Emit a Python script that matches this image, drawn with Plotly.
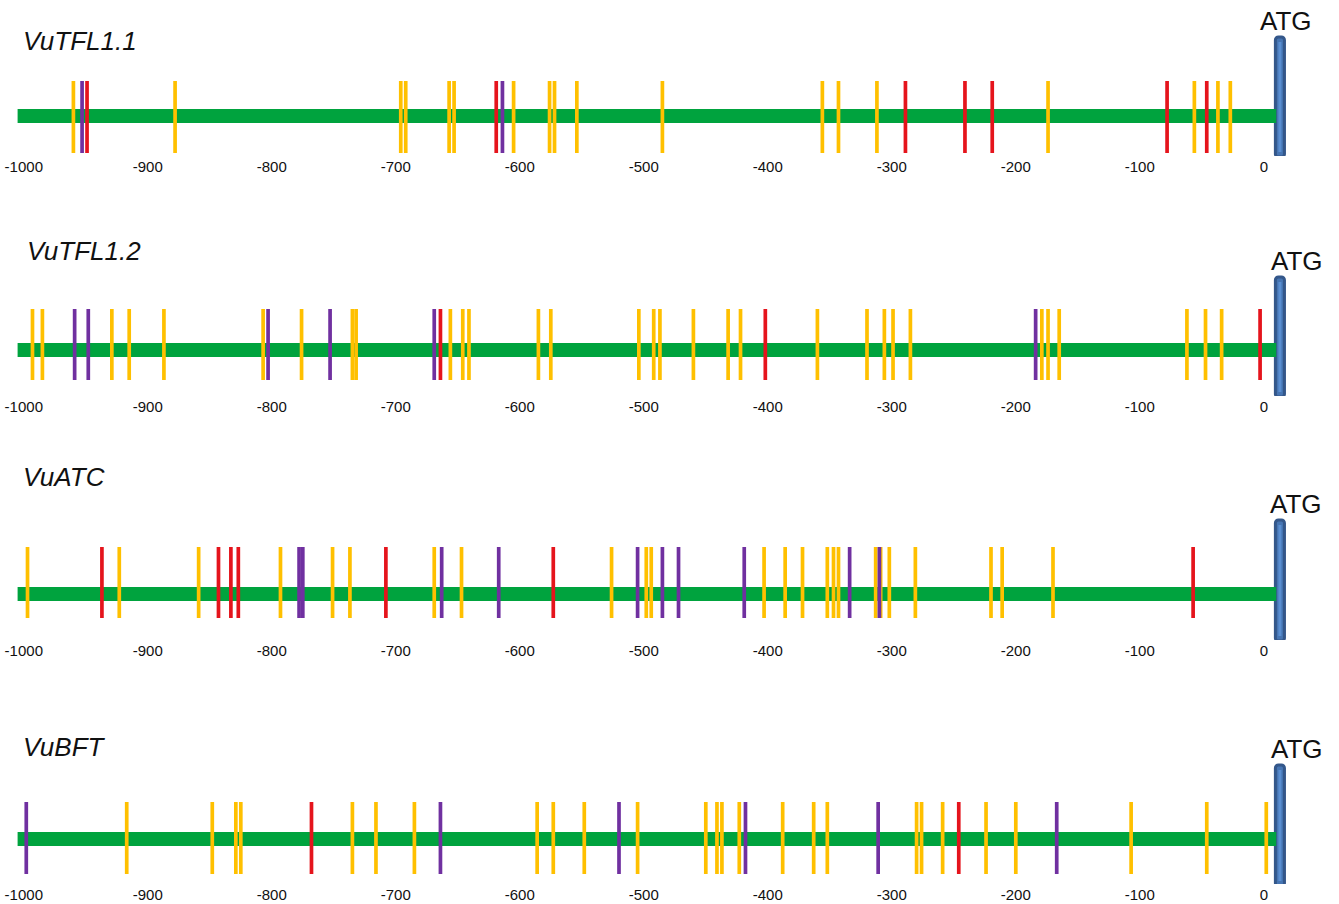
import plotly.graph_objects as go

# ---------------- data (positions relative to ATG, bp) ----------------
genes = ["VuTFL1.1", "VuTFL1.2", "VuATC", "VuBFT"]

tfl11_yellow = [-960, -878, -696, -692, -657, -653, -605, -576, -572, -554, -485,
                -356, -343, -312, -174, -56, -37, -27]
tfl11_red = [-949, -619, -289, -241, -219, -78, -46]
tfl11_purple = [-953, -614]

tfl12_yellow = [-993, -985, -929, -915, -887, -807, -776, -735, -732, -656, -646, -641,
                -585, -575, -504, -492, -487, -460, -432, -422, -360, -320, -306, -299,
                -285, -179, -174, -165, -62, -47, -34]
tfl12_red = [-664, -402, -3]
tfl12_purple = [-959, -948, -803, -753, -669, -184]

atc_yellow = [-997, -923, -859, -793, -751, -737, -669, -647, -526, -498, -494,
              -403, -386, -372, -352, -347, -343, -313, -309, -302, -281, -220, -211, -170]
atc_red = [-937, -843, -833, -827, -708, -573, -57]
atc_purple = [-778, -775, -663, -617, -505, -485, -472, -419, -334, -310]

bft_yellow = [-917, -848, -829, -825, -735, -716, -685, -586, -573, -548, -505,
              -450, -441, -437, -423, -388, -363, -352, -280, -276, -259, -224, -200,
              -107, -46, 2]
bft_red = [-768, -246]
bft_purple = [-998, -664, -520, -418, -311, -167]

tick_vals = [-1000, -900, -800, -700, -600, -500, -400, -300, -200, -100, 0]
tick_text = ["-1000", "-900", "-800", "-700", "-600", "-500", "-400", "-300", "-200", "-100", "0"]

promoter_start = -1005
promoter_end = 10
atg_label = "ATG"
atg_pos = 13

yellow_sets = [tfl11_yellow, tfl12_yellow, atc_yellow, bft_yellow]
red_sets = [tfl11_red, tfl12_red, atc_red, bft_red]
purple_sets = [tfl11_purple, tfl12_purple, atc_purple, bft_purple]

# ---------------- styling / layout ----------------
W, H = 1339, 904
YELLOW = "#FFC000"
RED = "#E5141C"
PURPLE = "#7030A0"
GREEN = "#00A33E"
ATG_FILL = "#4675B3"
ATG_LINE = "#34578A"
ATG_HI = "#5A8FD2"
FONT = "Liberation Sans, Arial, sans-serif"

centers_px = [116, 350, 594, 839]          # bar centre of each panel (px from top)
mark_ext = [(-37, 35), (-30, 41), (-24, 47), (-35, 37)]   # mark bottom/top (px, up +)
box_ext = [(-41, 79), (-47, 73), (-47, 74), (-47, 74)]
dom_bot = [40, 46, 46, 45]
title_px = [41, 251, 477, 747]
title_x_px = [21, 25, 21, 21]
atg_px = [21, 261, 504, 749]
atg_x_px = [1286, 1297, 1296, 1297]

# x mapping (best fit to tick labels): -1000 -> 23.8 px, 0 -> 1263.8 px
X0_PX, X1_PX = 23.8, 1263.8
px_per_bp = (X1_PX - X0_PX) / 1000.0
x_range = [-1000 - X0_PX / px_per_bp, (W - X1_PX) / px_per_bp]

DOM_TOP = 100   # px above bar centre covered by each y axis

fig = go.Figure()
annotations = []

for i in range(4):
    xa = "x" if i == 0 else f"x{i+1}"
    ya = "y" if i == 0 else f"y{i+1}"
    lo, hi = mark_ext[i]

    # promoter bar
    fig.add_trace(go.Scatter(
        x=[promoter_start, promoter_end], y=[0, 0], mode="lines",
        line=dict(color=GREEN, width=14), xaxis=xa, yaxis=ya,
        hoverinfo="skip", showlegend=False))

    # cis-elements
    for vals, col in [(yellow_sets[i], YELLOW), (purple_sets[i], PURPLE), (red_sets[i], RED)]:
        xs, ys = [], []
        for v in vals:
            xs += [v, v, None]
            ys += [lo, hi, None]
        fig.add_trace(go.Scatter(
            x=xs, y=ys, mode="lines", line=dict(color=col, width=3.7),
            xaxis=xa, yaxis=ya, hoverinfo="skip", showlegend=False))

    # ATG box
    b0, b1 = box_ext[i]
    fig.add_trace(go.Bar(
        x=[atg_pos], y=[b1 - b0], base=[b0], width=[7.3],
        marker=dict(color=ATG_FILL, line=dict(color=ATG_LINE, width=3), cornerradius=3),
        xaxis=xa, yaxis=ya, hoverinfo="skip", showlegend=False))
    fig.add_trace(go.Scatter(
        x=[atg_pos, atg_pos], y=[b0 + 5, b1 - 5], mode="lines",
        line=dict(color=ATG_HI, width=3), xaxis=xa, yaxis=ya,
        hoverinfo="skip", showlegend=False))

    c = centers_px[i]
    top_frac = (H - (c - DOM_TOP)) / H
    bot_frac = (H - (c + dom_bot[i])) / H
    fig.update_layout(**{
        ("xaxis" if i == 0 else f"xaxis{i+1}"): dict(
            domain=[0, 1], range=x_range, anchor=ya, showgrid=False, zeroline=False,
            showline=False, ticks="", tickmode="array", tickvals=tick_vals,
            ticktext=tick_text, tickfont=dict(family=FONT, size=15, color="#111111"),
            fixedrange=True),
        ("yaxis" if i == 0 else f"yaxis{i+1}"): dict(
            domain=[bot_frac, top_frac], range=[-dom_bot[i], DOM_TOP], anchor=xa,
            visible=False, fixedrange=True),
    })

    annotations.append(dict(
        text=f"<i>{genes[i]}</i>", xref="paper", yref="paper",
        x=title_x_px[i] / W, y=(H - title_px[i]) / H,
        xanchor="left", yanchor="middle", showarrow=False,
        font=dict(family=FONT, size=26, color="#111111"),
    ))
    annotations.append(dict(
        text=atg_label, xref="paper", yref="paper",
        x=atg_x_px[i] / W, y=(H - atg_px[i]) / H,
        xanchor="center", yanchor="middle", showarrow=False,
        font=dict(family=FONT, size=26, color="#111111"),
    ))

fig.update_layout(
    width=W, height=H, margin=dict(l=0, r=0, t=0, b=0),
    paper_bgcolor="white", plot_bgcolor="rgba(0,0,0,0)",
    barmode="overlay", annotations=annotations, showlegend=False,
)

fig.write_html(
    "out.html",
    config={"displayModeBar": False},
    post_script="document.body.style.margin='0';document.body.style.overflow='hidden';",
)
